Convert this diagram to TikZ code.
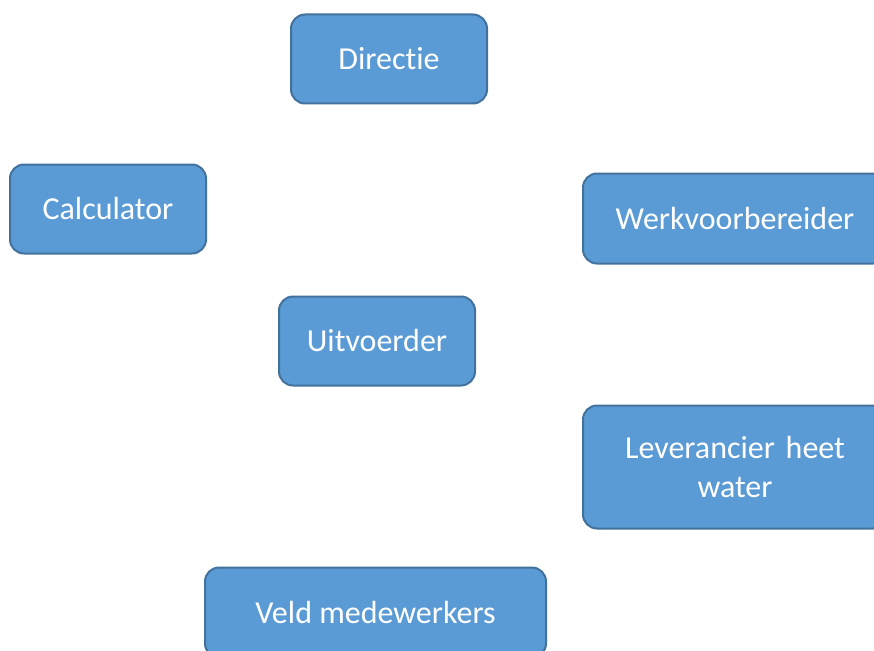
\documentclass[tikz,border=0pt]{standalone}
\usepackage{fontspec}
\setmainfont[Ligatures=NoCommon]{Carlito}
\definecolor{boxfill}{HTML}{5B9BD5}
\definecolor{boxline}{HTML}{41719C}
\begin{document}
\begin{tikzpicture}[x=1pt,y=-1pt,
  orgbox/.style={draw=boxline, fill=boxfill, line width=2pt, rounded corners=14pt,
    text=white, align=center, inner sep=0pt,
    font=\fontsize{32}{39}\selectfont}]
\useasboundingbox (0,0) rectangle (874,650);
\clip (0,0) rectangle (874,650);
\node[orgbox, minimum width=196pt, minimum height=89pt] (directie) at (389,59) {Directie};
\node[orgbox, minimum width=196pt, minimum height=89pt] (calc) at (108,209) {Calculator};
\node[orgbox, minimum width=304pt, minimum height=90pt] (werk) at (735,218.5) {Werkvoorbereider};
\node[orgbox, minimum width=196pt, minimum height=89pt] (uitv) at (377,341) {Uitvoerder};
\node[orgbox, minimum width=304pt, minimum height=123pt, text width=285pt] (lev) at (735,467) {Leverancier heet\\water};
\node[orgbox, minimum width=341pt, minimum height=90pt] (veld) at (375.5,612.5) {Veld medewerkers};
\end{tikzpicture}
\end{document}
